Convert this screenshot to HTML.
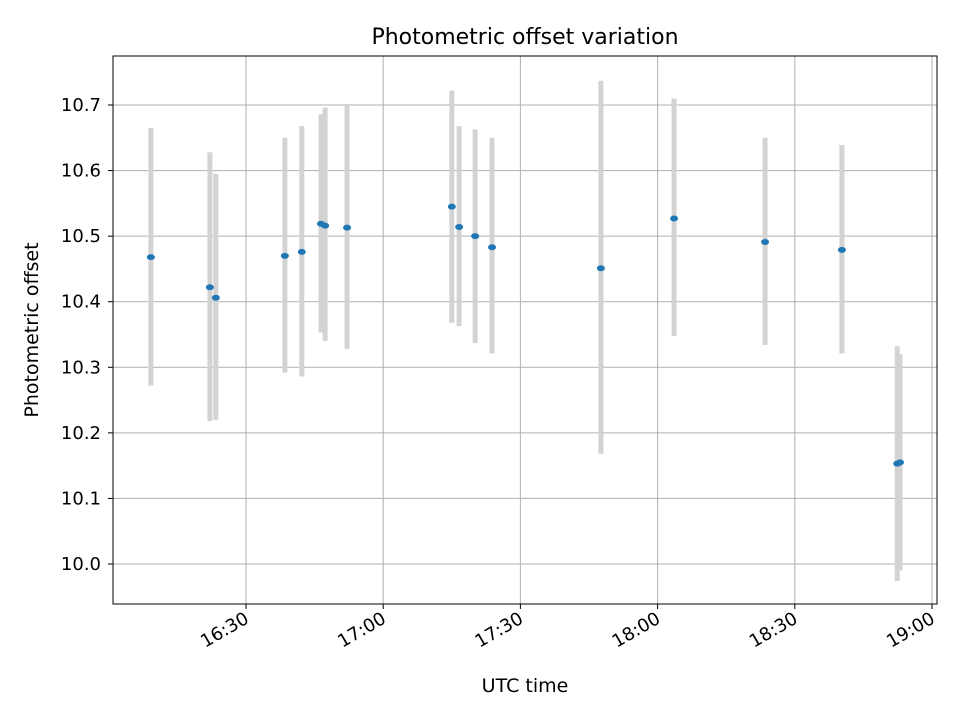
<!DOCTYPE html>
<html><head><meta charset="utf-8"><style>
body{margin:0;background:#fff;}
svg text{font-family:"DejaVu Sans","Liberation Sans",sans-serif;fill:#000;}
</style></head><body>
<svg id="chart" width="960" height="720" xmlns="http://www.w3.org/2000/svg">
<rect width="960" height="720" fill="#fff"/>
<g id="grid"></g><g id="bars"></g><g id="pts"></g><g id="axes"></g>
<text x="525" y="44" text-anchor="middle" font-size="22">Photometric offset variation</text>
<text x="525" y="692" text-anchor="middle" font-size="19">UTC time</text>
<text x="38" y="330" text-anchor="middle" font-size="19" transform="rotate(-90 38 330)">Photometric offset</text>
</svg>
<script>
const times=[9.2,22.1,23.4,38.5,42.2,46.4,47.3,52.1,75.0,76.6,80.1,83.8,107.6,123.6,143.5,160.3,172.4,173.0];
const values=[10.468,10.422,10.406,10.470,10.476,10.519,10.516,10.513,10.545,10.514,10.500,10.483,10.451,10.527,10.491,10.479,10.153,10.155];
const lows=[10.272,10.218,10.220,10.292,10.286,10.353,10.340,10.328,10.368,10.363,10.337,10.321,10.168,10.348,10.334,10.321,9.974,9.990];
const highs=[10.665,10.628,10.595,10.650,10.668,10.686,10.696,10.700,10.722,10.668,10.663,10.650,10.737,10.710,10.650,10.639,10.332,10.320];
const yTicks=[10.0,10.1,10.2,10.3,10.4,10.5,10.6,10.7];
const xTicks=[30,60,90,120,150,180];
const xTickLabels=["16:30","17:00","17:30","18:00","18:30","19:00"];
const L=113,R=937,T=56,B=604;
const xs=m=>246+(m-30)*137.2/30;
const ys=v=>564-(v-10)*655.7;
const NS="http://www.w3.org/2000/svg";
function mk(parent,tag,attrs){const e=document.createElementNS(NS,tag);for(const k in attrs)e.setAttribute(k,attrs[k]);document.getElementById(parent).appendChild(e);return e;}
yTicks.forEach(v=>{const y=ys(v);
 let g=mk('grid','line',{x1:L,x2:R,y1:y,y2:y,stroke:'#b0b0b0','stroke-width':1});
 
 mk('axes','line',{x1:L-5,x2:L,y1:y,y2:y,stroke:'#000'});
 let t=mk('axes','text',{x:L-12,y:y+6,'text-anchor':'end','font-size':18});t.textContent=v.toFixed(1);
 });
xTicks.forEach((m,i)=>{const x=xs(m);
 let g=mk('grid','line',{x1:x,x2:x,y1:T,y2:B,stroke:'#b0b0b0','stroke-width':1});
 
 mk('axes','line',{x1:x,x2:x,y1:B,y2:B+5,stroke:'#000'});
 let t=mk('axes','text',{x:x+4,y:B+18,'text-anchor':'end','font-size':18,transform:`rotate(-30 ${x+4} ${B+18})`});t.textContent=xTickLabels[i];
 });
times.forEach((m,i)=>{
 let b=mk('bars','line',{x1:xs(m),x2:xs(m),y1:ys(lows[i]),y2:ys(highs[i]),stroke:'#d3d3d3','stroke-width':5});
 
 let p=mk('pts','ellipse',{cx:xs(m),cy:ys(values[i]),rx:4,ry:3,fill:'#1f77b4'});
 });
let f=mk('axes','rect',{x:L,y:T,width:R-L,height:B-T,fill:'none',stroke:'#000','stroke-width':1});

</script>
</body></html>
